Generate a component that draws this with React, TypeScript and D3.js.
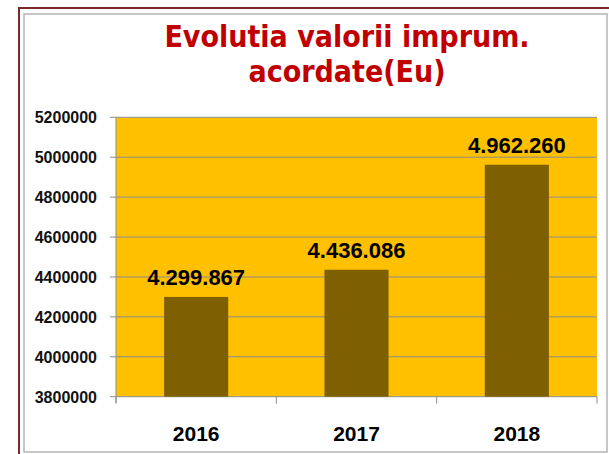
import React, { useEffect, useRef } from 'react';
import * as d3 from 'd3';

const years = ['2016', '2017', '2018'];
const values = [4299867, 4436086, 4962260];
const valueLabels = ['4.299.867', '4.436.086', '4.962.260'];
const yTicks = [3800000, 4000000, 4200000, 4400000, 4600000, 4800000, 5000000, 5200000];
const titleLines = ['Evolutia valorii imprum.', 'acordate(Eu)'];

const W = 609;
const H = 454;
const plot = { left: 116, right: 597, top: 117.3, bottom: 396.7 };
const numFont = '"Liberation Sans", Arial, sans-serif';

const App = () => {
  const ref = useRef<SVGSVGElement>(null);

  useEffect(() => {
    const svg = d3.select(ref.current);
    svg.selectAll('*').remove();

    // frames
    svg.append('rect')
      .attr('x', 19).attr('y', 8)
      .attr('width', W + 20).attr('height', H + 20)
      .attr('fill', 'white')
      .attr('stroke', '#7b2a2a').attr('stroke-width', 2);
    svg.append('rect')
      .attr('x', 24).attr('y', 14)
      .attr('width', 583).attr('height', 438)
      .attr('fill', 'white')
      .attr('stroke', '#b5b5b5').attr('stroke-width', 1.5);

    // title
    svg.selectAll('text.title')
      .data(titleLines)
      .enter()
      .append('text')
      .attr('class', 'title')
      .attr('x', 347)
      .attr('y', (d, i) => 46.7 + i * 35)
      .attr('text-anchor', 'middle')
      .attr('font-family', '"DejaVu Sans Condensed", "DejaVu Sans", sans-serif')
      .attr('font-weight', 'bold')
      .attr('font-size', 30)
      .attr('fill', '#c00000')
      .text(d => d);

    const y = d3.scaleLinear()
      .domain([3800000, 5200000])
      .range([plot.bottom, plot.top]);

    const x = d3.scaleBand()
      .domain(years)
      .range([plot.left, plot.right])
      .paddingInner(0.6)
      .paddingOuter(0.3);

    const step = x.step();

    // plot background
    svg.append('rect')
      .attr('x', plot.left).attr('y', plot.top)
      .attr('width', plot.right - plot.left)
      .attr('height', plot.bottom - plot.top)
      .attr('fill', '#ffc000');

    // grid + y ticks
    const g = svg.append('g');
    g.selectAll('line.grid')
      .data(yTicks)
      .enter()
      .append('line')
      .attr('x1', plot.left - 6)
      .attr('x2', plot.right)
      .attr('y1', d => y(d))
      .attr('y2', d => y(d))
      .attr('stroke', '#8c8c8c')
      .attr('stroke-width', 1);

    g.selectAll('text.ytick')
      .data(yTicks)
      .enter()
      .append('text')
      .attr('x', 97)
      .attr('y', d => y(d) + 6)
      .attr('text-anchor', 'end')
      .attr('font-family', numFont)
      .attr('font-weight', 'bold')
      .attr('font-size', 16)
      .attr('fill', '#111')
      .text(d => d);

    // axes
    g.append('line')
      .attr('x1', plot.left).attr('x2', plot.left)
      .attr('y1', plot.top).attr('y2', plot.bottom + 6)
      .attr('stroke', '#8c8c8c');

    const xBounds = years.map(d => (x(d) as number) - step * 0.3).concat([plot.right]);
    g.selectAll('line.xtick')
      .data(xBounds)
      .enter()
      .append('line')
      .attr('x1', d => d).attr('x2', d => d)
      .attr('y1', plot.bottom).attr('y2', plot.bottom + 7)
      .attr('stroke', '#8c8c8c');

    // bars
    svg.selectAll('rect.bar')
      .data(values)
      .enter()
      .append('rect')
      .attr('class', 'bar')
      .attr('x', (d, i) => x(years[i]) as number)
      .attr('y', d => y(d))
      .attr('width', x.bandwidth())
      .attr('height', d => plot.bottom - y(d))
      .attr('fill', '#7f6000');

    // value labels
    svg.selectAll('text.val')
      .data(values)
      .enter()
      .append('text')
      .attr('x', (d, i) => (x(years[i]) as number) + x.bandwidth() / 2)
      .attr('y', d => y(d) - 11.5)
      .attr('text-anchor', 'middle')
      .attr('font-family', numFont)
      .attr('font-weight', 'bold')
      .attr('font-size', 22)
      .attr('fill', '#000')
      .text((d, i) => valueLabels[i]);

    // category labels
    svg.selectAll('text.cat')
      .data(years)
      .enter()
      .append('text')
      .attr('x', d => (x(d) as number) + x.bandwidth() / 2)
      .attr('y', 441)
      .attr('text-anchor', 'middle')
      .attr('font-family', numFont)
      .attr('font-weight', 'bold')
      .attr('font-size', 21)
      .attr('fill', '#000')
      .text(d => d);
  }, []);

  return (
    <svg
      ref={ref}
      width={W}
      height={H}
      style={{ position: 'absolute', left: 0, top: 0, display: 'block' }}
    />
  );
};

export default App;
